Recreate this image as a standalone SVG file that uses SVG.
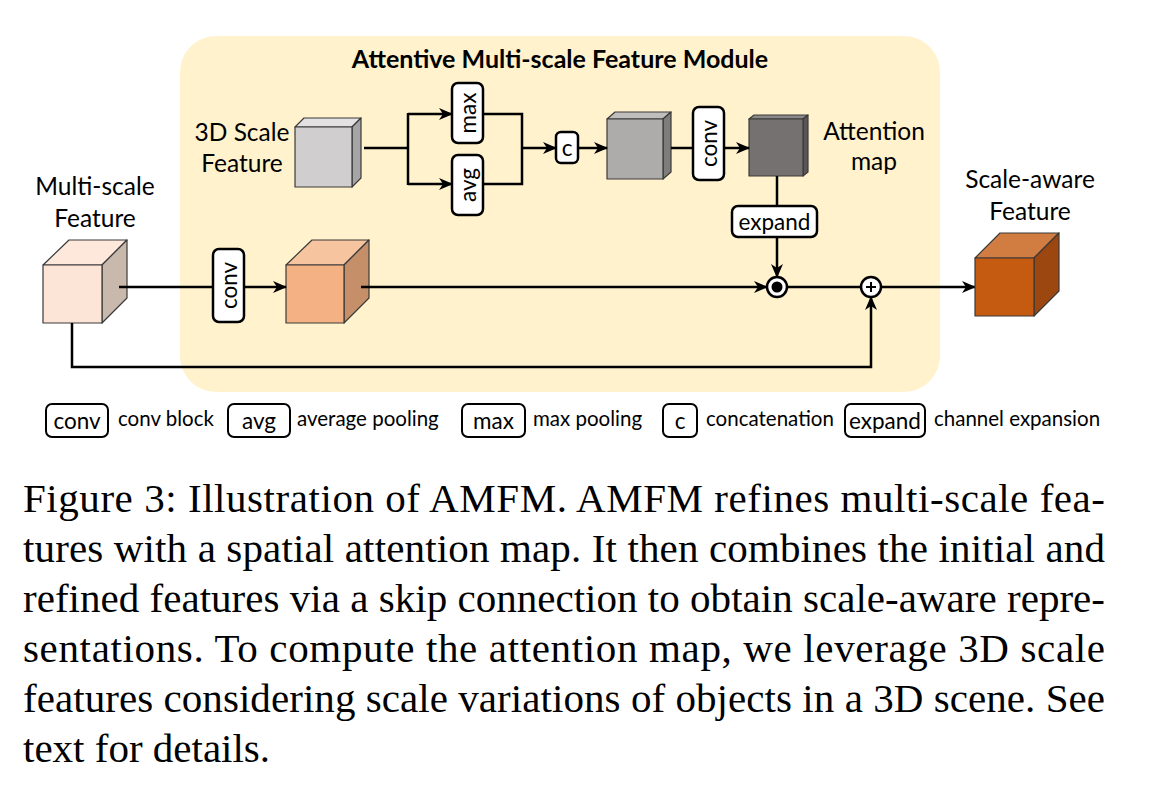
<svg xmlns="http://www.w3.org/2000/svg" width="1154" height="788" viewBox="0 0 1154 788">
<defs>
<marker id="arr" markerUnits="userSpaceOnUse" markerWidth="14" markerHeight="12" viewBox="0 0 14 12" refX="13" refY="6" orient="auto">
<path d="M0,0 L14,6 L0,12 L4,6 z" fill="#000"/>
</marker>
</defs>
<style>
.lbl{font-family:Lato,"Open Sans",sans-serif;font-size:24.5px;fill:#000;text-anchor:middle}
.ttl{font-family:Lato,"Open Sans",sans-serif;font-size:25px;font-weight:bold;fill:#000;text-anchor:middle}
.btx{font-family:Lato,"Open Sans",sans-serif;font-size:22.5px;fill:#000;text-anchor:middle;dominant-baseline:central}
.leg{font-family:Lato,"Open Sans",sans-serif;font-size:20.5px;fill:#000}
.box{fill:#fff;stroke:#000;stroke-width:2.5}
.lbox{fill:#fff;stroke:#000;stroke-width:2}
.cube{stroke:#3a3a3a;stroke-width:1.2;stroke-linejoin:round}
.ln{fill:none;stroke:#000;stroke-width:2.5}
.cap{font-family:"Liberation Serif","Times New Roman",serif;font-size:41px;fill:#000}
</style>
<rect id="panel" x="180" y="36" width="760" height="356" rx="36" fill="#fff2cc"/>
<text class="ttl" x="560" y="68">Attentive Multi-scale Feature Module</text>

<g id="multiscale">
<polygon class="cube" points="43,265 69,240 127,240 102,265" fill="#fde8db"/>
<polygon class="cube" points="102,265 127,240 127,298 102,323" fill="#c9b8ac"/>
<rect class="cube" x="43" y="265" width="59" height="58" fill="#fce4d6"/>
<text class="lbl" x="95" y="195">Multi-scale</text>
<text class="lbl" x="95" y="227">Feature</text>
</g>

<g id="scale3d">
<polygon class="cube" points="295,127 304,118 361,118 352,127" fill="#e3e1e1"/>
<polygon class="cube" points="352,127 361,118 361,178 352,187" fill="#a5a5a5"/>
<rect class="cube" x="295" y="127" width="57" height="60" fill="#d0cece"/>
<text class="lbl" x="242" y="141">3D Scale</text>
<text class="lbl" x="242" y="172">Feature</text>
</g>

<g id="maxbox">
<rect class="box" x="452" y="83" width="31" height="60" rx="6"/>
<text class="btx" transform="translate(467.5,113) rotate(-90)">max</text>
</g>
<g id="avgbox">
<rect class="box" x="452" y="155" width="31" height="60" rx="6"/>
<text class="btx" transform="translate(467.5,185) rotate(-90)">avg</text>
</g>
<g id="cbox">
<rect class="box" x="556" y="132" width="22" height="31" rx="5"/>
<text class="btx" x="567" y="147">c</text>
</g>

<g id="concatcube">
<polygon class="cube" points="607,119 615,112 671,112 663,119" fill="#c0bdbd"/>
<polygon class="cube" points="663,119 671,112 671,172 663,179" fill="#7f7c7c"/>
<rect class="cube" x="607" y="119" width="56" height="60" fill="#aeabab"/>
</g>

<g id="convtop">
<rect class="box" x="693" y="107" width="31" height="73" rx="6"/>
<text class="btx" transform="translate(708.5,143.5) rotate(-90)">conv</text>
</g>

<g id="attmap">
<polygon class="cube" points="749,119 754,115 808,115 803,119" fill="#8c8888"/>
<polygon class="cube" points="803,119 808,115 808,172 803,176" fill="#5a5656"/>
<rect class="cube" x="749" y="119" width="54" height="57" fill="#767171"/>
<text class="lbl" x="874" y="140">Attention</text>
<text class="lbl" x="874" y="170">map</text>
</g>

<g id="expandbox">
<rect class="box" x="732" y="206" width="85" height="31" rx="6"/>
<text class="btx" x="774.5" y="221">expand</text>
</g>

<g id="convlow">
<rect class="box" x="213" y="249" width="31" height="73" rx="6"/>
<text class="btx" transform="translate(228.5,285.5) rotate(-90)">conv</text>
</g>

<g id="orangecube">
<polygon class="cube" points="286,265 312,240 369,240 344,265" fill="#f7c4a0"/>
<polygon class="cube" points="344,265 369,240 369,298 344,323" fill="#c48f69"/>
<rect class="cube" x="286" y="265" width="58" height="58" fill="#f4b183"/>
</g>

<g id="connectors">
<path class="ln" d="M364,148 H408 M408,113 V185"/>
<path class="ln" d="M408,114 H452" marker-end="url(#arr)"/>
<path class="ln" d="M408,184 H452" marker-end="url(#arr)"/>
<path class="ln" d="M483,114 H522 V184 H483"/>
<path class="ln" d="M522,148 H556" marker-end="url(#arr)"/>
<path class="ln" d="M578,148 H607" marker-end="url(#arr)"/>
<path class="ln" d="M671,148 H693"/>
<path class="ln" d="M724,148 H749" marker-end="url(#arr)"/>
<path class="ln" d="M777,176 V206"/>
<path class="ln" d="M777,237 V277" marker-end="url(#arr)"/>
<path class="ln" d="M119,287 H213"/>
<path class="ln" d="M244,287 H286" marker-end="url(#arr)"/>
<path class="ln" d="M361,287 H767" marker-end="url(#arr)"/>
<path class="ln" d="M787,287 H861"/>
<path class="ln" d="M881,287 H975" marker-end="url(#arr)"/>
<path class="ln" d="M72,323 V367 H871 V297" marker-end="url(#arr)"/>
</g>

<g id="mulop">
<circle cx="777" cy="287" r="10" fill="#fff" stroke="#000" stroke-width="2.5"/>
<circle cx="777" cy="287" r="5.5" fill="#000"/>
</g>
<g id="addop">
<circle cx="871" cy="287" r="10" fill="#fff" stroke="#000" stroke-width="2.5"/>
<path d="M866,287 H876 M871,282 V292" stroke="#000" stroke-width="2"/>
</g>

<g id="scaleaware">
<polygon class="cube" points="975,258 1000,233 1059,233 1034,258" fill="#d17c40"/>
<polygon class="cube" points="1034,258 1059,233 1059,291 1034,316" fill="#9c4610"/>
<rect class="cube" x="975" y="258" width="59" height="58" fill="#c55a11"/>
<text class="lbl" x="1030" y="188">Scale-aware</text>
<text class="lbl" x="1030" y="220">Feature</text>
</g>

<g id="legend">
<rect class="lbox" x="46" y="404" width="62" height="33" rx="6"/>
<text class="btx" x="77" y="420">conv</text>
<text class="leg" x="118" y="426">conv block</text>
<rect class="lbox" x="228" y="404" width="62" height="33" rx="6"/>
<text class="btx" x="259" y="420">avg</text>
<text class="leg" x="297" y="426">average pooling</text>
<rect class="lbox" x="462" y="404" width="63" height="33" rx="6"/>
<text class="btx" x="493.5" y="420">max</text>
<text class="leg" x="533" y="426">max pooling</text>
<rect class="lbox" x="663" y="404" width="34" height="33" rx="6"/>
<text class="btx" x="680" y="420">c</text>
<text class="leg" x="706" y="426">concatenation</text>
<rect class="lbox" x="845" y="404" width="80" height="33" rx="6"/>
<text class="btx" x="885" y="420">expand</text>
<text class="leg" x="934" y="426">channel expansion</text>
</g>

<g id="caption">
<text class="cap" x="23" y="512" textLength="1082" lengthAdjust="spacing">Figure 3: Illustration of AMFM. AMFM refines multi-scale fea-</text>
<text class="cap" x="23" y="562" textLength="1082" lengthAdjust="spacing">tures with a spatial attention map. It then combines the initial and</text>
<text class="cap" x="23" y="612" textLength="1082" lengthAdjust="spacing">refined features via a skip connection to obtain scale-aware repre-</text>
<text class="cap" x="23" y="662" textLength="1082" lengthAdjust="spacing">sentations. To compute the attention map, we leverage 3D scale</text>
<text class="cap" x="23" y="712" textLength="1082" lengthAdjust="spacing">features considering scale variations of objects in a 3D scene. See</text>
<text class="cap" x="23" y="762">text for details.</text>
</g>
</svg>
